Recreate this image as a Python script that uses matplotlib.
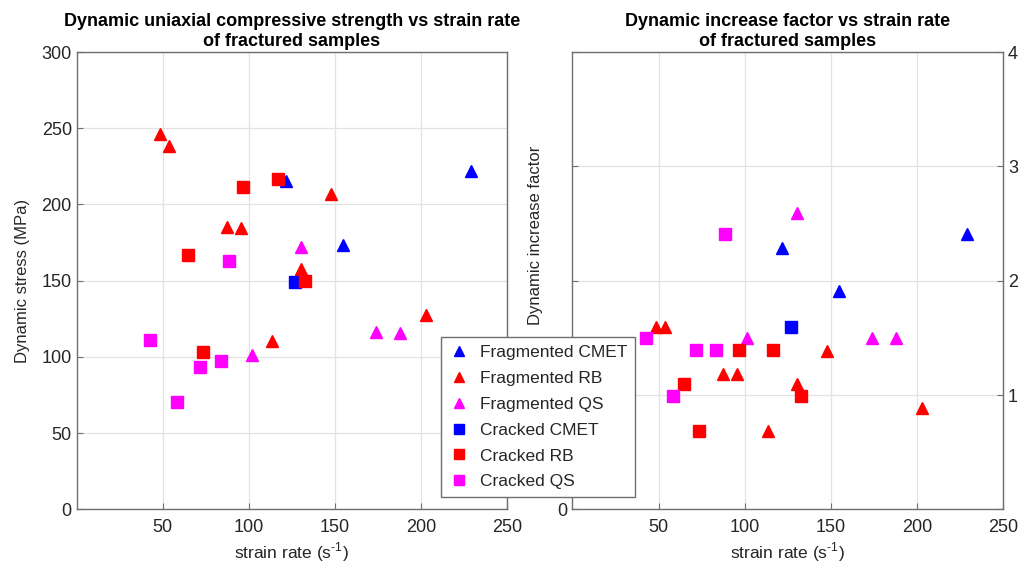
import matplotlib
matplotlib.use("Agg")
import matplotlib.pyplot as plt
from matplotlib.lines import Line2D

plt.rcParams['font.family'] = ['Liberation Sans', 'DejaVu Sans']
plt.rcParams['mathtext.fontset'] = 'custom'
plt.rcParams['mathtext.rm'] = 'Liberation Sans'

# ---- data (strain rate, dynamic stress MPa, DIF) ----
frag_cmet_rate = [121.7, 154.8, 229.0]
frag_cmet_stress = [215.4, 173.5, 222.0]
frag_cmet_dif = [2.29, 1.91, 2.41]

frag_rb_rate = [48.6, 53.5, 87.5, 95.6, 113.6, 130.6, 147.6, 202.7]
frag_rb_stress = [246.5, 238.6, 185.5, 184.6, 110.8, 157.6, 206.6, 127.8]
frag_rb_dif = [1.595, 1.595, 1.187, 1.187, 0.69, 1.094, 1.387, 0.89]

frag_qs_rate = [101.6, 130.6, 173.9, 187.8]
frag_qs_stress = [101.6, 171.8, 116.4, 115.8]
frag_qs_dif = [1.495, 2.595, 1.50, 1.50]

crack_cmet_rate = [126.6]
crack_cmet_stress = [149.1]
crack_cmet_dif = [1.598]

crack_rb_rate = [64.5, 73.5, 96.6, 116.7, 132.7]
crack_rb_stress = [167.0, 103.1, 211.8, 216.9, 150.0]
crack_rb_dif = [1.094, 0.69, 1.396, 1.396, 0.994]

crack_qs_rate = [42.5, 58.5, 71.5, 83.6, 88.5]
crack_qs_stress = [111.2, 70.3, 93.3, 97.1, 163.0]
crack_qs_dif = [1.499, 0.994, 1.396, 1.396, 2.405]

labels = ['Fragmented CMET', 'Fragmented RB', 'Fragmented QS',
          'Cracked CMET', 'Cracked RB', 'Cracked QS']
xticks = [50, 100, 150, 200, 250]

series = [
    (frag_cmet_rate, frag_cmet_stress, frag_cmet_dif, '^', 'blue'),
    (frag_rb_rate, frag_rb_stress, frag_rb_dif, '^', 'red'),
    (frag_qs_rate, frag_qs_stress, frag_qs_dif, '^', 'magenta'),
    (crack_cmet_rate, crack_cmet_stress, crack_cmet_dif, 's', 'blue'),
    (crack_rb_rate, crack_rb_stress, crack_rb_dif, 's', 'red'),
    (crack_qs_rate, crack_qs_stress, crack_qs_dif, 's', 'magenta'),
]

fig = plt.figure(figsize=(10.21, 5.74), dpi=100)
ax1 = fig.add_axes([0.0751, 0.1124, 0.4215, 0.797])
ax2 = fig.add_axes([0.5607, 0.1124, 0.4217, 0.797])

spine_c = '#6e6e6e'
text_c = '#262626'
xlab = 'strain rate (s$^{\\text{-}1}$)'
for ax in (ax1, ax2):
    for s in ax.spines.values():
        s.set_color(spine_c)
        s.set_linewidth(1.0)
    ax.grid(True, color='#e3e3e3', linewidth=0.9)
    ax.set_axisbelow(True)
    ax.tick_params(direction='in', colors=spine_c, labelcolor=text_c,
                   labelsize=13, length=4)
    ax.tick_params(axis='x', pad=7)
    ax.set_xlim(0, 250)
    ax.set_xticks(xticks)

handles = []
for rate, stress, dif, m, c in series:
    ms = 9 if m == '^' else 8.5
    ax1.plot(rate, stress, linestyle='none', marker=m, color=c, ms=ms)
    ax2.plot(rate, dif, linestyle='none', marker=m, color=c, ms=ms)
    handles.append(Line2D([], [], linestyle='none', marker=m, color=c, ms=7))

ax1.set_ylim(0, 300)
ax1.set_yticks([0, 50, 100, 150, 200, 250, 300])
ax1.set_ylabel('Dynamic stress (MPa)', fontsize=12, color=text_c, labelpad=8)
ax1.set_xlabel(xlab, fontsize=12.5, color=text_c, labelpad=3)
ax1.set_title('Dynamic uniaxial compressive strength vs strain rate\nof fractured samples',
              fontsize=13, fontweight='bold', color='black', pad=4, linespacing=1.25)

ax2.set_ylim(0, 4)
ax2.set_yticks([0, 1, 2, 3, 4])
ax2.set_yticklabels(['0', '', '', '', ''])
ax2.set_ylabel('Dynamic increase factor', fontsize=12, color=text_c)
ax2.yaxis.set_label_coords(-0.069, 0.6)
ax2.set_xlabel(xlab, fontsize=12.5, color=text_c, labelpad=3)
ax2.set_title('Dynamic increase factor vs strain rate\nof fractured samples',
              fontsize=13, fontweight='bold', color='black', pad=4, linespacing=1.25)

ax3 = ax2.twinx()
ax3.set_ylim(0, 4)
ax3.set_yticks([0, 1, 2, 3, 4])
ax3.set_yticklabels(['', '1', '2', '3', '4'])
ax3.tick_params(direction='in', colors=spine_c, labelcolor=text_c,
                labelsize=13, length=4)
for s in ax3.spines.values():
    s.set_visible(False)

leg = fig.legend(handles, labels, loc='upper left', bbox_to_anchor=(0.432, 0.413),
                 fontsize=12.5, frameon=True, fancybox=False, framealpha=1,
                 edgecolor='#6e6e6e', handlelength=1.2, handletextpad=0.6,
                 borderpad=0.45, labelspacing=0.62, borderaxespad=0)
leg.get_frame().set_linewidth(1.0)
for t in leg.get_texts():
    t.set_color(text_c)

fig.savefig('out.png', dpi=100)
